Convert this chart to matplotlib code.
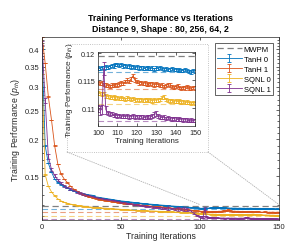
import numpy as np
import matplotlib.pyplot as plt
from matplotlib.patches import Rectangle, ConnectionPatch
from matplotlib.ticker import FixedLocator, NullLocator, FormatStrFormatter, NullFormatter

plt.rcParams['font.family'] = ['Liberation Sans', 'DejaVu Sans']
plt.rcParams['mathtext.fontset'] = 'custom'
plt.rcParams['mathtext.rm'] = 'Liberation Sans'
plt.rcParams['mathtext.it'] = 'Liberation Sans:italic'

# iterations: every 2nd up to 98, then every one in the zoomed window
iters_a = np.arange(0, 100, 2)
iters_b = np.arange(100, 151)

tanh0_a = [0.400, 0.190, 0.166, 0.155, 0.147, 0.143, 0.141, 0.139, 0.137, 0.135,
           0.134, 0.133, 0.132, 0.131, 0.1305, 0.1300, 0.1295, 0.128, 0.1275, 0.127,
           0.1265, 0.126, 0.1255, 0.125, 0.1245, 0.124, 0.1237, 0.1233, 0.123, 0.1226,
           0.1222, 0.1219, 0.1216, 0.1213, 0.121, 0.1208, 0.1205, 0.1203, 0.120, 0.1198,
           0.1196, 0.1193, 0.119, 0.1188, 0.1186, 0.1184, 0.1182, 0.118, 0.1178, 0.1176]
tanh0_b = [0.1172, 0.1171, 0.1173, 0.1172, 0.1174, 0.1173, 0.1175, 0.1177, 0.1176, 0.1179,
           0.1178, 0.1177, 0.1179, 0.1176, 0.1177, 0.1175, 0.1176, 0.1174, 0.1175, 0.1173,
           0.1174, 0.1172, 0.1173, 0.1172, 0.1171, 0.1173, 0.1172, 0.1171, 0.1172, 0.1170,
           0.1172, 0.1171, 0.1173, 0.1171, 0.1170, 0.1171, 0.1169, 0.1170, 0.1171, 0.1169,
           0.1170, 0.1168, 0.1169, 0.1167, 0.1168, 0.1169, 0.1167, 0.1166, 0.1165, 0.1167,
           0.1166]

tanh1_a = [0.440, 0.360, 0.278, 0.232, 0.190, 0.165, 0.153, 0.147, 0.143, 0.139,
           0.136, 0.134, 0.132, 0.1305, 0.129, 0.128, 0.127, 0.1262, 0.1255, 0.1248,
           0.1242, 0.1238, 0.1233, 0.1229, 0.1225, 0.1222, 0.1218, 0.1215, 0.1212, 0.1208,
           0.1205, 0.1202, 0.1199, 0.1196, 0.1193, 0.1190, 0.1188, 0.1185, 0.1182, 0.118,
           0.1177, 0.1174, 0.1171, 0.1168, 0.1165, 0.1162, 0.1159, 0.1156, 0.1152, 0.1149]
tanh1_b = [0.1146, 0.1144, 0.1145, 0.1142, 0.1141, 0.1140, 0.1139, 0.1141, 0.1140, 0.1142,
           0.1141, 0.1143, 0.1145, 0.1144, 0.1147, 0.1150, 0.1148, 0.1152, 0.1158, 0.1150,
           0.1147, 0.1145, 0.1146, 0.1144, 0.1145, 0.1143, 0.1142, 0.1144, 0.1143, 0.1141,
           0.1143, 0.1142, 0.1140, 0.1141, 0.1139, 0.1140, 0.1142, 0.1141, 0.1139, 0.1137,
           0.1138, 0.1140, 0.1137, 0.1135, 0.1137, 0.1136, 0.1138, 0.1136, 0.1135, 0.1137,
           0.1136]

sqnl0_a = [0.330, 0.152, 0.139, 0.133, 0.129, 0.126, 0.124, 0.1228, 0.1218, 0.121,
           0.1204, 0.1198, 0.1194, 0.119, 0.1187, 0.1184, 0.1181, 0.1178, 0.1176, 0.1174,
           0.1172, 0.117, 0.1168, 0.1166, 0.1164, 0.1162, 0.116, 0.1158, 0.1157, 0.1155,
           0.1154, 0.1152, 0.1151, 0.115, 0.1148, 0.1147, 0.1146, 0.1144, 0.1143, 0.1142,
           0.1141, 0.114, 0.1138, 0.1137, 0.1136, 0.1135, 0.1133, 0.1132, 0.1130, 0.1128]
sqnl0_b = [0.1127, 0.1126, 0.1125, 0.1126, 0.1122, 0.1121, 0.1120, 0.1119, 0.1120, 0.1118,
           0.1119, 0.1117, 0.1118, 0.1117, 0.1116, 0.1118, 0.1117, 0.1116, 0.1117, 0.1115,
           0.1116, 0.1115, 0.1116, 0.1114, 0.1115, 0.1116, 0.1114, 0.1115, 0.1113, 0.1115,
           0.1114, 0.1115, 0.1116, 0.1119, 0.1120, 0.1116, 0.1114, 0.1113, 0.1114, 0.1112,
           0.1113, 0.1112, 0.1113, 0.1111, 0.1112, 0.1110, 0.1111, 0.1110, 0.1109, 0.1110,
           0.1109]

sqnl1_a = [0.420, 0.270, 0.175, 0.158, 0.151, 0.146, 0.142, 0.1395, 0.1375, 0.136,
           0.1345, 0.133, 0.1318, 0.1308, 0.1298, 0.129, 0.1282, 0.1275, 0.1268, 0.1262,
           0.1256, 0.125, 0.1245, 0.124, 0.1234, 0.1228, 0.1223, 0.1218, 0.1213, 0.1208,
           0.1203, 0.1199, 0.1195, 0.1191, 0.1187, 0.1183, 0.118, 0.1177, 0.1174, 0.1172,
           0.1178, 0.117, 0.1166, 0.1168, 0.1163, 0.1166, 0.1158, 0.1148, 0.1128, 0.1108]
sqnl1_b = [0.1100, 0.1097, 0.1098, 0.1171, 0.1098, 0.1092, 0.1090, 0.1091, 0.1088, 0.1089,
           0.1087, 0.1088, 0.1086, 0.1087, 0.1086, 0.1087, 0.1085, 0.1086, 0.1087, 0.1085,
           0.1086, 0.1085, 0.1086, 0.1085, 0.1084, 0.1085, 0.1086, 0.1085, 0.1087, 0.1090,
           0.1091, 0.1087, 0.1085, 0.1084, 0.1085, 0.1083, 0.1084, 0.1083, 0.1082, 0.1083,
           0.1082, 0.1081, 0.1082, 0.1081, 0.1080, 0.1081, 0.1080, 0.1079, 0.1080, 0.1079,
           0.1079]

# error bars (typical size for most series, read per point for SQNL 1)
err_tanh0 = 0.0003
err_tanh1 = 0.0003
err_sqnl0 = 0.0003
err_sqnl1_a = [0.006, 0.005, 0.003, 0.002, 0.0015, 0.0012, 0.001, 0.0009, 0.0008, 0.0008,
               0.0007, 0.0007, 0.0006, 0.0006, 0.0006, 0.0006, 0.0005, 0.0005, 0.0005, 0.0005,
               0.0005, 0.0005, 0.0005, 0.0005, 0.0005, 0.0005, 0.0005, 0.0005, 0.0005, 0.0005,
               0.0005, 0.0005, 0.0005, 0.0005, 0.0005, 0.0005, 0.0005, 0.0005, 0.0005, 0.0006,
               0.0020, 0.0008, 0.0012, 0.0018, 0.0010, 0.0020, 0.0015, 0.0010, 0.0008, 0.0006]
err_sqnl1_b = [0.0006, 0.0008, 0.0008, 0.0012, 0.0007, 0.0004, 0.0003, 0.0003, 0.0003, 0.0003,
               0.0003, 0.0003, 0.0003, 0.0003, 0.0003, 0.0003, 0.0003, 0.0003, 0.0003, 0.0003,
               0.0003, 0.0003, 0.0003, 0.0003, 0.0003, 0.0003, 0.0003, 0.0003, 0.0003, 0.0004,
               0.0004, 0.0003, 0.0003, 0.0003, 0.0003, 0.0003, 0.0003, 0.0003, 0.0003, 0.0003,
               0.0003, 0.0003, 0.0003, 0.0003, 0.0003, 0.0003, 0.0003, 0.0003, 0.0003, 0.0003,
               0.0003]

mwpm = 0.1195
best_levels = [0.1164, 0.1134, 0.1107, 0.1078]

labels = ['TanH 0', 'TanH 1', 'SQNL 0', 'SQNL 1']
colors = ['#0072BD', '#D95319', '#EDB120', '#7E2F8E']
values = [tanh0_a + tanh0_b, tanh1_a + tanh1_b, sqnl0_a + sqnl0_b, sqnl1_a + sqnl1_b]
errors = [err_tanh0, err_tanh1, err_sqnl0, err_sqnl1_a + err_sqnl1_b]
iters = np.concatenate([iters_a, iters_b])

axcol = '#262626'


def draw(ax):
    ax.axhline(mwpm, color='#808080', ls=(0, (5, 3)), lw=0.9, label='MWPM')
    for lvl, c in zip(best_levels, colors):
        ax.axhline(lvl, color=c, ls=(0, (5, 3)), lw=0.8, alpha=0.55)
    for lab, c, v, e in zip(labels, colors, values, errors):
        ax.errorbar(iters, v, yerr=e, color=c, lw=0.6, elinewidth=0.6,
                    capsize=1.3, capthick=0.6, label=lab)


def style(ax, fs):
    ax.tick_params(which='both', direction='in', top=True, right=True,
                   colors=axcol, labelsize=fs, width=0.5, pad=2)
    ax.tick_params(which='major', length=2.5)
    ax.tick_params(which='minor', length=1.4)
    for s in ax.spines.values():
        s.set_color(axcol)
        s.set_linewidth(0.5)


fig = plt.figure(figsize=(2.99, 2.51), dpi=100)
ax = fig.add_axes([42 / 299, 1 - 221 / 251, 237 / 299, 183 / 251])
draw(ax)
ax.set_yscale('log')
ax.set_xlim(0, 150)
ax.set_ylim(0.107, 0.44)
ax.set_xticks([0, 50, 100, 150])
ax.yaxis.set_major_locator(FixedLocator([0.15, 0.2, 0.25, 0.3, 0.35, 0.4]))
ax.yaxis.set_major_formatter(FormatStrFormatter('%g'))
ax.yaxis.set_minor_locator(FixedLocator(np.arange(0.11, 0.44, 0.01)))
ax.yaxis.set_minor_formatter(NullFormatter())
ax.xaxis.set_minor_locator(NullLocator())
style(ax, 5.5)
ax.set_xlabel('Training Iterations', fontsize=6.3, color=axcol, labelpad=1)
ax.set_ylabel('Training Performance ($p_{th}$)', fontsize=6.3, color=axcol, labelpad=2)
ax.set_title('Training Performance vs Iterations\nDistance 9, Shape : 80, 256, 64, 2',
             fontsize=6.3, fontweight='bold', pad=4, linespacing=1.3)

leg = ax.legend(loc='upper right', bbox_to_anchor=(273 / 299, 1 - 44 / 251),
                bbox_transform=fig.transFigure, fontsize=5.5, fancybox=False,
                framealpha=1, edgecolor=axcol, borderpad=0.3, labelspacing=0.35,
                handlelength=3.2, handletextpad=0.3, borderaxespad=0)
leg.get_frame().set_linewidth(0.5)

# zoom frame and connector lines
x0, x1 = 67 / 299, 208 / 299
y0, y1 = 1 - 153 / 251, 1 - 45 / 251
fig.patches.append(Rectangle((x0, y0), x1 - x0, y1 - y0, transform=fig.transFigure,
                             fill=False, ec='#b0b0b0', lw=0.6, ls=':'))
for fx, dx in [(x0, 100), (x1, 150)]:
    con = ConnectionPatch(xyA=(fx, y0), coordsA=fig.transFigure,
                          xyB=(dx, 0.1205), coordsB=ax.transData,
                          color='#b0b0b0', lw=0.6, ls=':')
    fig.add_artist(con)

ins = fig.add_axes([98 / 299, 1 - 127 / 251, 97 / 299, 74 / 251])
draw(ins)
ins.set_yscale('log')
ins.set_xlim(100, 150)
ins.set_ylim(0.107, 0.1202)
ins.set_xticks([100, 110, 120, 130, 140, 150])
ins.yaxis.set_major_locator(FixedLocator([0.11, 0.115, 0.12]))
ins.yaxis.set_major_formatter(FormatStrFormatter('%g'))
ins.yaxis.set_minor_locator(NullLocator())
ins.xaxis.set_minor_locator(NullLocator())
style(ins, 5.2)
ins.set_xlabel('Training Iterations', fontsize=5.8, color=axcol, labelpad=1)
ins.set_ylabel('Training Performance ($p_{th}$)', fontsize=5.8, color=axcol, labelpad=2)

fig.savefig('out.png', dpi=100)
